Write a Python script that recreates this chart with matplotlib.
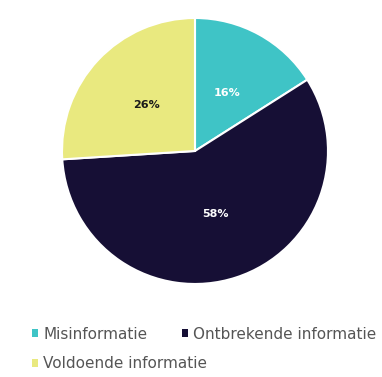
import matplotlib.pyplot as plt
from matplotlib.patches import Patch

labels = ["Misinformatie", "Ontbrekende informatie", "Voldoende informatie"]
shares = [16, 58, 26]
colors = ["#3fc4c6", "#160f35", "#e9e97f"]
text_colors = ["white", "white", "#1a1a1a"]

fig = plt.figure(figsize=(3.82, 3.77), dpi=100)
ax = fig.add_axes([0.1623, 0.2467, 0.6963, 0.7056])

wedges, texts, autotexts = ax.pie(
    shares, colors=colors, startangle=90, counterclock=False,
    autopct="%d%%", pctdistance=0.5,
    wedgeprops=dict(edgecolor="white", linewidth=1.5),
)
for t, c in zip(autotexts, text_colors):
    t.set_color(c)
    t.set_fontsize(8)
    t.set_fontweight("bold")
ax.set_xlim(-1, 1)
ax.set_ylim(-1, 1)
ax.set_aspect("equal")

# legend flows like text: first row has two items, second row one
def add_legend(idx, y):
    handles = [Patch(facecolor=colors[i], label=labels[i]) for i in idx]
    leg = fig.legend(handles=handles, ncol=len(idx), loc="center left",
                     bbox_to_anchor=(0.064, y), frameon=False, borderpad=0,
                     fontsize=11, handlelength=0.4, handleheight=0.4,
                     handletextpad=0.33, columnspacing=2.25)
    for t in leg.get_texts():
        t.set_color("#555555")

add_legend([0, 1], 0.114)
add_legend([2], 0.0345)

fig.savefig("out.png", dpi=100)
